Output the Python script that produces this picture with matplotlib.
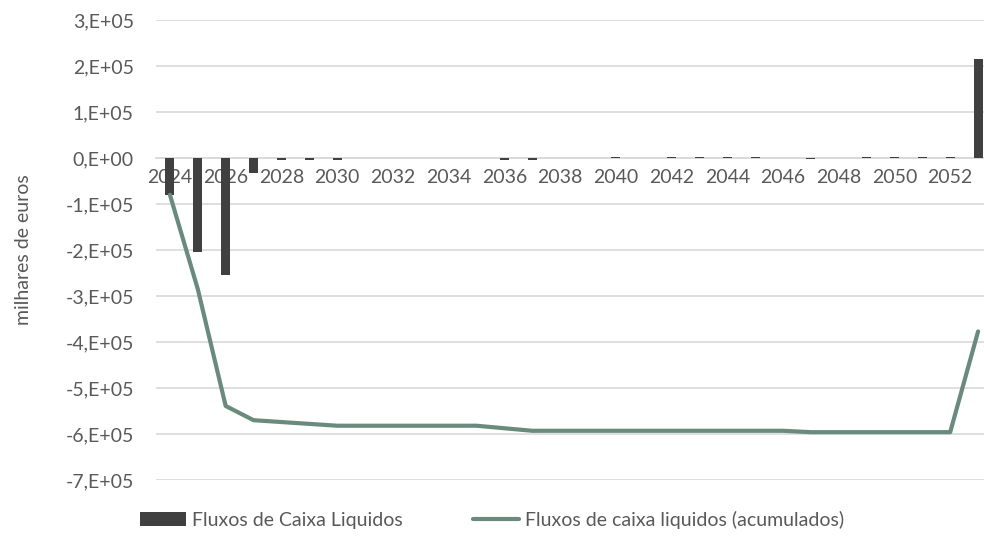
import matplotlib.pyplot as plt
from matplotlib.ticker import FuncFormatter, MultipleLocator

plt.rcParams['font.family'] = ['Lato', 'DejaVu Sans']

# data (milhares de euros)
anos = list(range(2024, 2054))
fluxos = [-80000, -205000, -254000, -33000,
          -4000, -4000, -4000, -1000, -1000, -1000, -1000, -1000,
          -5000, -5000, -1000, -1000, 2000, -1000, 2000, 2000,
          2000, 2000, -1000, -3000, -1000, 2000, 2000, 2000,
          2000, 215000]
acumulados = [-80000, -285000, -539000, -570000,
              -574000, -578000, -582000, -582000, -582000, -582000, -582000, -582000,
              -587500, -593000, -593000, -593000, -593000, -593000, -593000, -593000,
              -593000, -593000, -593000, -596000, -596000, -596000, -596000, -596000,
              -596000, -377000]

txt = '#595959'
fs = 14
fig = plt.figure(figsize=(9.84, 5.47), dpi=100)
ax = fig.add_axes([156 / 984, 67 / 547, 836 / 984, 460 / 547])

b = ax.bar(anos, fluxos, width=0.32, color='#404040', zorder=3,
           label='Fluxos de Caixa Liquidos')
l, = ax.plot(anos, acumulados, color='#6a8a7d', lw=3, zorder=4,
             solid_capstyle='round', label='Fluxos de caixa liquidos (acumulados)')

ax.set_xlim(2023.5, 2053.5)
ax.set_ylim(-7e5, 3e5)
ax.yaxis.set_major_locator(MultipleLocator(1e5))
ax.yaxis.set_major_formatter(FuncFormatter(
    lambda v, p: '0,E+00' if abs(v) < 1 else '{:d},E+05'.format(int(round(v / 1e5)))))
ax.set_xticks(anos[::2])
ax.grid(axis='y', color='#d9d9d9', lw=1.2, zorder=0)

for s in ['top', 'right', 'left']:
    ax.spines[s].set_visible(False)
ax.spines['bottom'].set_position(('data', 0))
ax.spines['bottom'].set_color('#d9d9d9')
ax.spines['bottom'].set_linewidth(1.2)
ax.tick_params(axis='both', length=0, labelsize=fs, labelcolor=txt)
ax.tick_params(axis='y', pad=16)
ax.tick_params(axis='x', pad=8)
ax.set_ylabel('milhares de euros', fontsize=fs, color=txt, labelpad=24)

fig.legend(handles=[b, l], loc='center', bbox_to_anchor=(492 / 984, 1 - 520 / 547),
           ncol=2, frameon=False, fontsize=fs, labelcolor=txt, handlelength=2.4,
           handletextpad=0.3, columnspacing=3.6)

fig.savefig('out.png', dpi=100)
